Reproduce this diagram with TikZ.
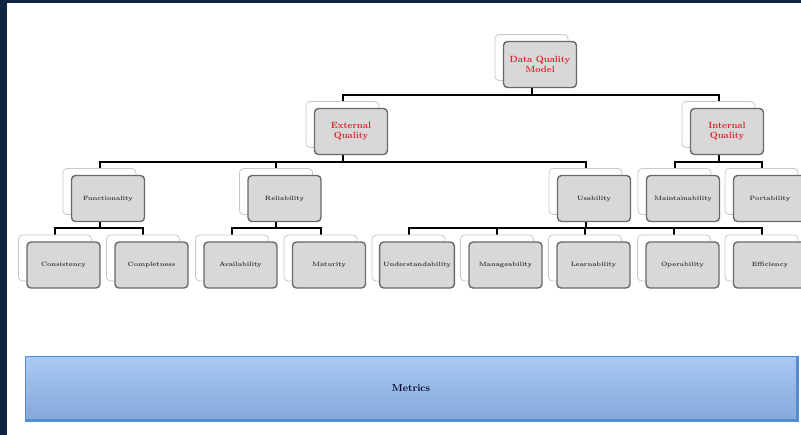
\documentclass[tikz,border=0pt]{standalone}
\usetikzlibrary{backgrounds}
\definecolor{navy}{RGB}{16,37,65}
\definecolor{qred}{RGB}{226,30,40}
\definecolor{qtext}{RGB}{55,55,55}
\definecolor{qfill}{RGB}{216,216,216}
\definecolor{qedge}{RGB}{105,105,105}
\definecolor{qback}{RGB}{200,200,200}
\definecolor{mtop}{RGB}{170,202,244}
\definecolor{mbot}{RGB}{132,168,218}
\definecolor{medge}{RGB}{88,140,210}
\begin{document}
\begin{tikzpicture}[x=1pt,y=-1pt,
  backbox/.style={draw=qback,fill=white,line width=0.8pt,rounded corners=4pt,minimum width=73pt,minimum height=46pt},
  frontbox/.style={draw=qedge,fill=qfill,line width=1.4pt,rounded corners=4pt,minimum width=73pt,minimum height=46pt,align=center,text=qtext,font=\fontsize{6.2}{7}\selectfont\bfseries},
  topbox/.style={frontbox,text=qred,font=\fontsize{9}{9.5}\selectfont\bfseries},
  metricsbar/.style={draw=medge,line width=1pt,top color=mtop,bottom color=mbot,minimum width=772pt,minimum height=63pt,text=black!85!blue,font=\fontsize{10}{12}\selectfont\bfseries},
  link/.style={line width=2pt,black}]
\useasboundingbox(0,0)rectangle(801,435);
\pgfmathsetmacro{\dx}{8.5}
\pgfmathsetmacro{\dy}{7}
\foreach \n/\x/\y/\t in {root/540/64.5/{Data Quality\\Model},ext/351/131.5/{External\\Quality},int/727/131.5/{Internal\\Quality}}{
  \node[backbox](\n) at (\x-\dx,\y-\dy){};
  \node[topbox](\n-f) at (\x,\y){\t};
}
\foreach \n/\x/\y/\t in {fun/108/198.5/Functionality,rel/284.5/198.5/Reliability,usa/594/198.5/Usability,mai/683/198.5/Maintainability,por/770/198.5/Portability,
  con/63.5/265/Consistency,com/151.5/265/Completness,ava/240.5/265/Availability,mat/329/265/Maturity,und/417/265/Understandability,
  man/505.5/265/Manageability,lea/593.5/265/Learnability,ope/682.5/265/Operability,eff/770/265/Efficiency}{
  \node[backbox](\n) at (\x-\dx,\y-\dy){};
  \node[frontbox](\n-f) at (\x,\y){\t};
}
\begin{pgfonlayer}{background}
\fill[white](0,0)rectangle(801,435);
\foreach \p/\b/\c in {root/95/ext,root/95/int,ext/162/fun,ext/162/rel,ext/162/usa,int/162/mai,int/162/por,
  fun/228.5/con,fun/228.5/com,rel/228.5/ava,rel/228.5/mat,usa/228.5/und,usa/228.5/man,usa/228.5/lea,usa/228.5/ope,usa/228.5/eff}
  \draw[link](\p.center)--(\p.center|-0,\b)-|(\c.center);
\end{pgfonlayer}
\node[metricsbar](met) at (411,388.5){Metrics};
\draw[medge,line width=2.5pt](met.south west)--(met.south east)--(met.north east);
\fill[navy](0,0)rectangle(7,435);
\fill[navy](0,0)rectangle(801,3);
\end{tikzpicture}
\end{document}
